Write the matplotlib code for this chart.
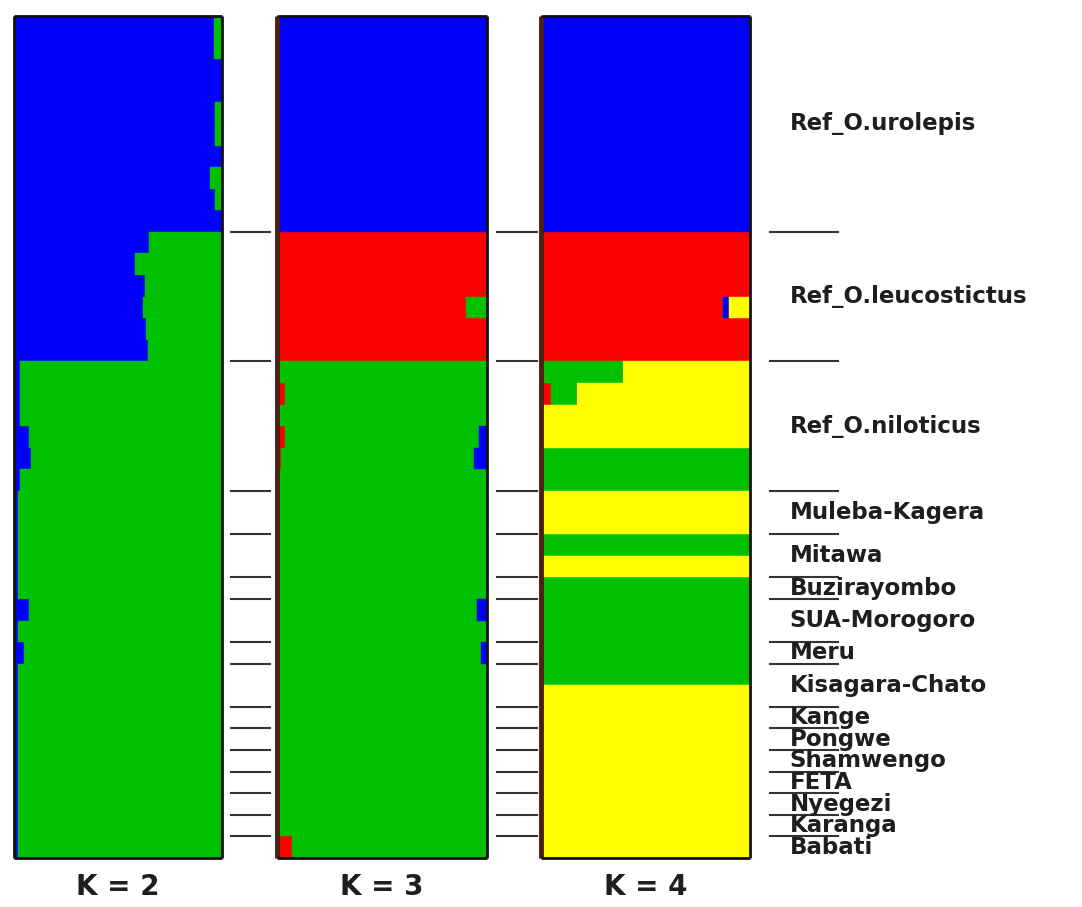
import numpy as np
import matplotlib
matplotlib.use("Agg")
import matplotlib.pyplot as plt
from matplotlib.transforms import blended_transform_factory

# populations (top to bottom) and number of individuals in each
groups = ["Ref_O.urolepis", "Ref_O.leucostictus", "Ref_O.niloticus",
          "Muleba-Kagera", "Mitawa", "Buzirayombo", "SUA-Morogoro", "Meru",
          "Kisagara-Chato", "Kange", "Pongwe", "Shamwengo", "FETA",
          "Nyegezi", "Karanga", "Babati"]
group_sizes = [10, 6, 6, 2, 2, 1, 2, 1, 2, 1, 1, 1, 1, 1, 1, 1]

# K = 2 : blue membership per individual (green = rest)
k2_blue = [0.96, 0.96, 1.0, 1.0, 0.965, 0.965, 1.0, 0.94, 0.965, 1.0,
           0.65, 0.58, 0.63, 0.62, 0.635, 0.645,
           0.03, 0.03, 0.03, 0.07, 0.08, 0.03,
           0.02, 0.02, 0.02, 0.02, 0.02, 0.07, 0.02, 0.05, 0.02, 0.02,
           0.02, 0.02, 0.02, 0.02, 0.02, 0.02, 0.02]

# K = 3 : red and blue membership (green = rest)
k3_red = [0.0] * 10 + [1.0, 1.0, 1.0, 0.9, 1.0, 1.0] + \
         [0.01, 0.04, 0.01, 0.04, 0.02, 0.01] + \
         [0.01, 0.01, 0.01, 0.01, 0.01, 0.01, 0.01, 0.01, 0.01, 0.01,
          0.01, 0.01, 0.01, 0.01, 0.01, 0.01, 0.07]
k3_blue = [1.0] * 10 + [0.0] * 6 + [0.0, 0.0, 0.0, 0.04, 0.06, 0.0] + \
          [0.0, 0.0, 0.0, 0.0, 0.0, 0.05, 0.0, 0.03, 0.0, 0.0,
           0.0, 0.0, 0.0, 0.0, 0.0, 0.0, 0.0]

# K = 4 : red, green, blue membership (yellow = rest)
k4_red = [0.0] * 10 + [1.0, 1.0, 1.0, 0.87, 1.0, 1.0] + \
         [0.01, 0.05, 0.01, 0.01, 0.0, 0.0] + [0.0] * 17
k4_green = [0.0] * 10 + [0.0] * 6 + [0.38, 0.12, 0.0, 0.0, 1.0, 1.0] + \
           [0.0, 0.0, 1.0, 0.0, 1.0, 1.0, 1.0, 1.0, 1.0, 0.0,
            0.0, 0.0, 0.0, 0.0, 0.0, 0.0, 0.0]
k4_blue = [1.0] * 10 + [0.0, 0.0, 0.0, 0.03, 0.0, 0.0] + [0.0] * 23

BLUE, GREEN, RED, YELLOW = "#0000ff", "#00c000", "#ff0000", "#ffff00"

k2_blue = np.array(k2_blue)
k3_red, k3_blue = np.array(k3_red), np.array(k3_blue)
k4_red, k4_green, k4_blue = np.array(k4_red), np.array(k4_green), np.array(k4_blue)

panels = [
    ("K = 2", [k2_blue, 1 - k2_blue], [BLUE, GREEN]),
    ("K = 3", [k3_red, 1 - k3_red - k3_blue, k3_blue], [RED, GREEN, BLUE]),
    ("K = 4", [k4_red, k4_green, k4_blue, 1 - k4_red - k4_green - k4_blue],
     [RED, GREEN, BLUE, YELLOW]),
]

n = sum(group_sizes)
bounds = np.cumsum(group_sizes)[:-1] - 0.5
mids = np.cumsum(group_sizes) - np.array(group_sizes) / 2 - 0.5

W, H = 1082, 907
fig = plt.figure(figsize=(W / 100, H / 100), dpi=100)
fig.patch.set_facecolor("white")

# panel pixel boxes: (left, right)
xs = [(14, 222), (277, 487), (541, 750)]
top, bot = 16, 858
# separator line extents (in axes fraction of the panel they follow)
sep = [(1.043, 1.231), (1.048, 1.238), (1.096, 1.421)]

y = np.arange(n)
for i, ((lab, fracs, cols), (x0, x1)) in enumerate(zip(panels, xs)):
    ax = fig.add_axes([x0 / W, 1 - bot / H, (x1 - x0) / W, (bot - top) / H])
    left = np.zeros(n)
    for f, c in zip(fracs, cols):
        ax.barh(y, f, left=left, height=1.0, color=c, edgecolor=c, linewidth=0.3)
        left = left + f
    ax.set_xlim(0, 1)
    ax.set_ylim(n - 0.5, -0.5)
    ax.set_xticks([])
    ax.set_yticks([])
    for s in ax.spines.values():
        s.set_linewidth(2)
        s.set_color("#111111")
        s.set_capstyle("butt")
    if i > 0:
        ax.spines["left"].set_color("#4b1f14")
        ax.spines["left"].set_linewidth(3.5)
    ax.text(0.5, -0.035, lab, transform=ax.transAxes, ha="center", va="center",
            fontsize=20, fontweight="bold", color="#1e1e1e", family="DejaVu Sans")

    tr = blended_transform_factory(ax.transAxes, ax.transData)
    for b in bounds:
        ax.plot(sep[i], [b, b], color="#333333", lw=1.5, transform=tr, clip_on=False)

    if i == 2:
        for g, m in zip(groups, mids):
            ax.text(1.19, m, g, transform=tr, ha="left", va="center",
                    fontsize=16.5, fontweight="bold", color="#1e1e1e",
                    family="DejaVu Sans")

fig.savefig("out.png", dpi=100, facecolor="white")
